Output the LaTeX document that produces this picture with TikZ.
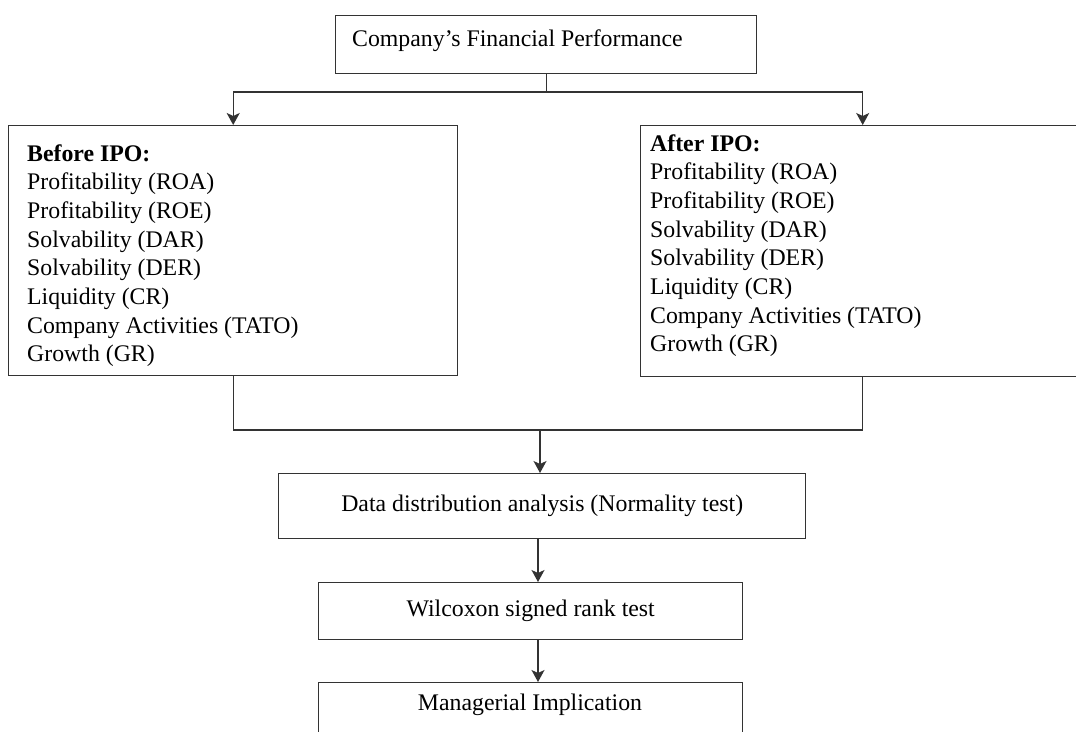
\documentclass[tikz,border=0pt]{standalone}
\usepackage{fontspec}
\setmainfont{Liberation Serif}
\usetikzlibrary{arrows.meta}
\usetikzlibrary{positioning}

\tikzset{
	box/.style={draw=black!80, line width=1.4pt, inner sep=0pt, font=\fontsize{23.8}{28.7}\selectfont},
	item/.style={anchor=base west, inner sep=0pt, font=\fontsize{23.8}{28.7}\selectfont},
	link/.style={draw=black!80, line width=1.4pt},
	arr/.style={link, -{Stealth[length=12pt,width=13pt,inset=3pt]}}
}

\begin{document}
\begin{tikzpicture}[x=1pt,y=-1pt]
	\useasboundingbox (0,0) rectangle (1076,731);
	\clip (0,0) rectangle (1076,731);
	% top box
	\node[box, anchor=north west, minimum width=421pt, minimum height=58pt] (perf) at (335,15) {};
	\node[item] (perftxt) at (352,46) {Company’s Financial Performance};
	% before / after
	\node[box, anchor=north west, minimum width=449pt, minimum height=250pt] (bef) at (8,125) {};
	\node[box, anchor=north west, minimum width=444pt, minimum height=251pt] (aft) at (640,125) {};
	\node[item] (befhead) at (27,161) {\textbf{Before IPO:}};
	\node[item] (afthead) at (650,151) {\textbf{After IPO:}};
	\foreach \txt [count=\i] in {Profitability (ROA),Profitability (ROE),Solvability (DAR),Solvability (DER),Liquidity (CR),Company Activities (TATO),Growth (GR)}{
		\node[item] (bef\i) at (27,{161+28.7*\i}) {\txt};
		\node[item] (aft\i) at (650,{151+28.7*\i}) {\txt};
	}
	% lower chain
	\node[box, anchor=north west, minimum width=527pt, minimum height=65pt] (dist) at (278,473) {Data distribution analysis (Normality test)};
	\node[box, anchor=north west, minimum width=424pt, minimum height=57pt] (wil) at (318,582) {Wilcoxon signed rank test};
	\node[box, anchor=north west, minimum width=424pt, minimum height=70pt] (mgr) at (318,682) {};
	\node[item, anchor=base] (mgrtxt) at (530,710) {Managerial Implication};
	% split
	\draw[link] (perf.south) -- (perf.south |- 0,92) coordinate (split);
	\coordinate (splitL) at (bef.north |- split);
	\coordinate (splitR) at (aft.north |- split);
	\draw[link] (splitL) -- (splitR);
	\draw[arr] (splitL) -- (bef.north);
	\draw[arr] (splitR) -- (aft.north);
	% join
	\draw[link] (bef.south) -- (bef.south |- 0,430) coordinate (joinL) -- (aft.south |- 0,430) coordinate (joinR) -- (aft.south);
	\coordinate (joinM) at (540,430);
	\draw[arr] (joinM) -- (joinM |- dist.north);
	\coordinate (axis) at (538,0);
	\draw[arr] (dist.south -| axis) -- (wil.north -| axis);
	\draw[arr] (wil.south -| axis) -- (mgr.north -| axis);
\end{tikzpicture}
\end{document}
